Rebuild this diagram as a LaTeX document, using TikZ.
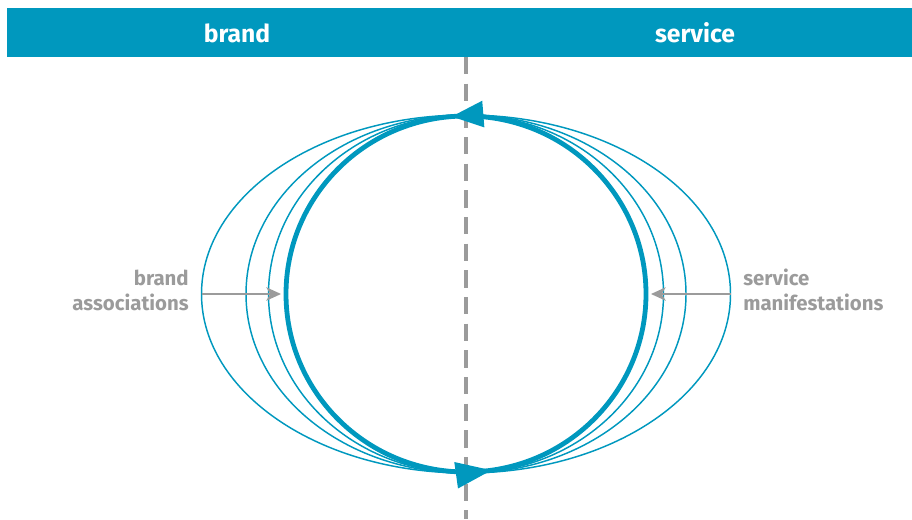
\documentclass[tikz,border=0pt]{standalone}
\usepackage{fontspec}
\setmainfont{Fira Sans}
\usetikzlibrary{arrows.meta,decorations.markings}

\definecolor{teal}{RGB}{0,152,190}
\definecolor{mgray}{RGB}{155,155,155}

\tikzset{
	ring/.style={draw=teal, line width=1.1pt},
	mainring/.style={draw=teal, line width=3.6pt,
		postaction={decorate, decoration={markings,
			mark=at position 0.263 with {\arrow{Triangle[length=24pt,width=19pt]}},
			mark=at position 0.773 with {\arrow{Triangle[length=27pt,width=19pt]}}}}},
	pointer/.style={draw=mgray, line width=1.3pt, -{Stealth[length=11pt,width=10pt,inset=3pt]}},
	side/.style={text=mgray, font=\fontsize{15.3}{18.8}\selectfont\bfseries, inner sep=0pt},
	head/.style={text=white, font=\fontsize{18.5}{20}\selectfont\bfseries}
}

\begin{document}
\begin{tikzpicture}[x=0.75pt, y=0.75pt]
	\useasboundingbox (0,0) rectangle (912,519);
	\fill[teal] (7,462) rectangle (912,511);
	\node[head] (brand) at (237,486) {brand};
	\node[head] (service) at (695,486) {service};

	\coordinate (c) at (466,225);
	\draw[mgray, line width=2.3pt, dash pattern=on 13pt off 7pt] (466,462) -- (466,0);

	\draw[ring] (c) ellipse [x radius=264.5, y radius=179];
	\draw[ring] (c) ellipse [x radius=220, y radius=179];
	\draw[ring] (c) ellipse [x radius=197.5, y radius=179];
	\draw[mainring, fill=none] (c) ellipse [x radius=180, y radius=178];

	\coordinate (bo) at (201.5,225);
	\coordinate (bi) at (281,225);
	\coordinate (so) at (730.5,225);
	\coordinate (si) at (651,225);
	\draw[pointer] (bo) -- (bi);
	\draw[pointer] (so) -- (si);

	\node[side, align=right, anchor=east] (assoc) at (189,229) {brand\\associations};
	\node[side, align=left, anchor=west] (manif) at (743,229) {service\\manifestations};
\end{tikzpicture}
\end{document}
